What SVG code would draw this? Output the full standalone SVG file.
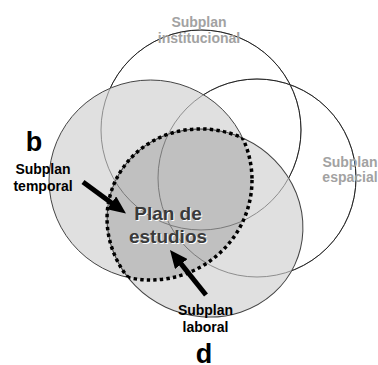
<svg xmlns="http://www.w3.org/2000/svg" width="378" height="365" viewBox="0 0 378 365">
  <style>
    text { font-family: "Liberation Sans", Arial, sans-serif; font-weight: bold; }
    .sub { font-size: 14px; text-anchor: middle; }
    .grey { fill: #a2a2a2; }
    .blk { fill: #000; }
    .big { font-size: 27px; fill: #000; text-anchor: middle; }
    .plan { font-size: 19px; text-anchor: middle; fill: #3a3a3a; }
    .plansh { font-size: 19px; text-anchor: middle; fill: #ffffff; }
    .fillset { fill: #e0e0e0; stroke: none; }
    .outl { fill: none; stroke: #444; stroke-width: 1; }
    .ringgrey { fill: none; stroke: #8e8e8e; stroke-width: 1; }
    .ringblk { fill: none; stroke: #222; stroke-width: 1; }
    .dots { fill: none; stroke: #000; stroke-width: 3.5; stroke-dasharray: 3.4 3.2; }
    .arrow { stroke: #000; stroke-width: 5; fill: none; marker-end: url(#head); }
  </style>
  <defs>
    <clipPath id="clipL">
      <ellipse cx="150.5" cy="180" rx="101.5" ry="100"/>
    </clipPath>
    <clipPath id="clipB">
      <ellipse cx="0" cy="0" rx="99" ry="93" transform="translate(205 223) rotate(25)"/>
    </clipPath>
    <mask id="outside" maskUnits="userSpaceOnUse" x="0" y="0" width="378" height="365">
      <rect x="0" y="0" width="378" height="365" fill="#fff"/>
      <ellipse cx="150.5" cy="180" rx="101.5" ry="100" fill="#000"/>
      <ellipse cx="0" cy="0" rx="99" ry="93" transform="translate(205 223) rotate(25)" fill="#000"/>
    </mask>
    <marker id="head" markerUnits="userSpaceOnUse" markerWidth="18" markerHeight="16" refX="6" refY="8" orient="auto">
      <path d="M0,0 L18,8 L0,16 z" fill="#000"/>
    </marker>
  </defs>

  <rect x="0" y="0" width="378" height="365" fill="#fff"/>

  <g id="temporal">
    <ellipse class="fillset" cx="150.5" cy="180" rx="101.5" ry="100"/>
    <ellipse class="outl" cx="150.5" cy="180" rx="101.5" ry="100"/>
    <text class="big" x="34" y="151">b</text>
    <text class="sub blk" x="43" y="174">Subplan</text>
    <text class="sub blk" x="43" y="191">temporal</text>
  </g>

  <g id="laboral">
    <ellipse class="fillset" cx="0" cy="0" rx="99" ry="93" transform="translate(205 223) rotate(25)"/>
    <ellipse class="outl" cx="0" cy="0" rx="99" ry="93" transform="translate(205 223) rotate(25)"/>
    <text class="sub blk" x="205.5" y="315">Subplan</text>
    <text class="sub blk" x="205.5" y="332">laboral</text>
    <text class="big" x="204" y="363">d</text>
  </g>

  <g id="institucional">
    <circle class="ringgrey" cx="201" cy="130" r="100"/>
    <circle class="ringblk" cx="201" cy="130" r="100" mask="url(#outside)"/>
    <text class="sub grey" x="199" y="27">Subplan</text>
    <text class="sub grey" x="199" y="43">institucional</text>
  </g>

  <g id="espacial">
    <circle class="ringgrey" cx="257" cy="178" r="99"/>
    <circle class="ringblk" cx="257" cy="178" r="99" mask="url(#outside)"/>
    <text class="sub grey" x="350" y="167">Subplan</text>
    <text class="sub grey" x="350" y="182">espacial</text>
  </g>

  <g id="plan">
    <g clip-path="url(#clipL)">
      <ellipse cx="0" cy="0" rx="99" ry="93" transform="translate(205 223) rotate(25)" fill="#000" fill-opacity="0.14"/>
    </g>
    <g clip-path="url(#clipB)">
      <ellipse class="dots" cx="150.5" cy="180" rx="101.5" ry="100"/>
    </g>
    <g clip-path="url(#clipL)">
      <ellipse class="dots" cx="0" cy="0" rx="99" ry="93" transform="translate(205 223) rotate(25)"/>
    </g>
    <text class="plansh" x="169" y="221">Plan de</text>
    <text class="plansh" x="169" y="244">estudios</text>
    <text class="plan" x="168" y="220">Plan de</text>
    <text class="plan" x="168" y="243">estudios</text>
  </g>

  <g id="connectors">
    <path class="arrow" d="M83,182 L116.3,206.4"/>
    <path class="arrow" d="M206,295 L177.5,259.4"/>
  </g>
</svg>
